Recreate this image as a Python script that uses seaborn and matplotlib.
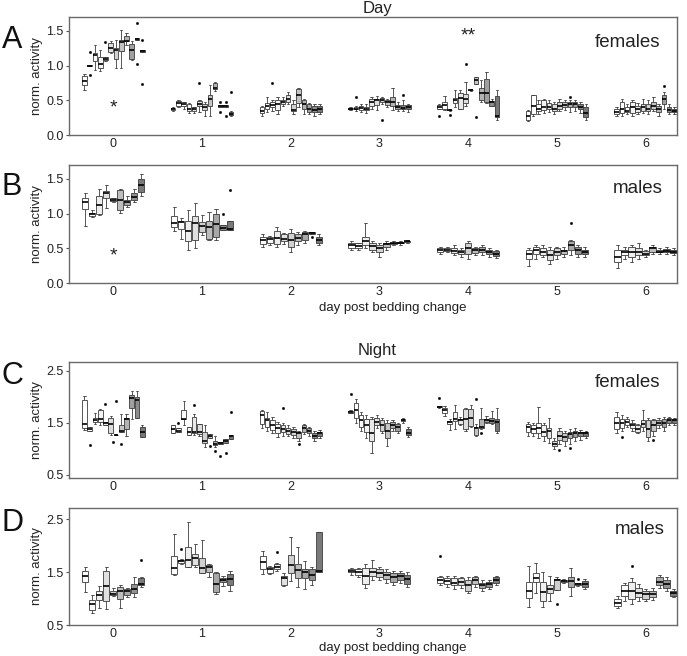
import numpy as np
import pandas as pd
import matplotlib
matplotlib.use("Agg")
import matplotlib.pyplot as plt
from matplotlib.ticker import FormatStrFormatter
import seaborn as sns

sns.set_theme(style="white")
plt.rcParams['font.family'] = ['Liberation Sans', 'DejaVu Sans']

# ---------------- data ----------------
days = ['0', '1', '2', '3', '4', '5', '6']
yticks_day = [0.0, 0.5, 1.0, 1.5]
yticks_night = [0.5, 1.5, 2.5]
colors_f = ['#ffffff', '#ffffff', '#fbfbfb', '#f3f3f3', '#e9e9e9', '#dedede',
            '#d2d2d2', '#c4c4c4', '#b3b3b3', '#a0a0a0', '#8c8c8c', '#777777']
colors_m = ['#ffffff', '#fafafa', '#eeeeee', '#e0e0e0', '#d0d0d0', '#bdbdbd',
            '#a8a8a8', '#929292', '#7a7a7a']

# each box: (low whisker, q1, median, q3, high whisker)
A_boxes = [
    [(0.65, 0.72, 0.78, 0.85, 0.88), (0.99, 0.99, 1.00, 1.01, 1.01), (0.93, 1.06, 1.15, 1.18, 1.29),
     (0.92, 0.96, 1.02, 1.12, 1.22), (1.07, 1.08, 1.10, 1.12, 1.13), (1.18, 1.19, 1.25, 1.32, 1.35),
     (0.97, 1.10, 1.22, 1.26, 1.37), (0.97, 1.21, 1.34, 1.37, 1.51), (1.30, 1.35, 1.36, 1.43, 1.47),
     (1.08, 1.10, 1.22, 1.31, 1.35), (1.37, 1.37, 1.38, 1.40, 1.40), (1.20, 1.20, 1.21, 1.23, 1.23)],
    [(0.35, 0.36, 0.375, 0.39, 0.40), (0.40, 0.42, 0.46, 0.49, 0.50), (0.37, 0.42, 0.44, 0.47, 0.48),
     (0.32, 0.34, 0.37, 0.45, 0.46), (0.31, 0.34, 0.37, 0.40, 0.41), (0.33, 0.42, 0.45, 0.49, 0.50),
     (0.27, 0.36, 0.41, 0.45, 0.47), (0.28, 0.42, 0.52, 0.58, 0.72), (0.64, 0.66, 0.68, 0.75, 0.76),
     (0.41, 0.41, 0.42, 0.43, 0.43), (0.41, 0.41, 0.42, 0.43, 0.43), (0.28, 0.29, 0.30, 0.33, 0.34)],
    [(0.28, 0.31, 0.34, 0.40, 0.42), (0.33, 0.38, 0.42, 0.46, 0.55), (0.35, 0.40, 0.43, 0.47, 0.50),
     (0.30, 0.36, 0.45, 0.50, 0.55), (0.42, 0.45, 0.48, 0.50, 0.55), (0.45, 0.48, 0.52, 0.58, 0.62),
     (0.30, 0.35, 0.36, 0.45, 0.50), (0.40, 0.46, 0.58, 0.66, 0.68), (0.30, 0.37, 0.45, 0.50, 0.52),
     (0.30, 0.33, 0.38, 0.44, 0.46), (0.28, 0.33, 0.36, 0.42, 0.44), (0.30, 0.33, 0.38, 0.42, 0.44)],
    [(0.36, 0.37, 0.38, 0.39, 0.40), (0.35, 0.37, 0.38, 0.40, 0.42), (0.33, 0.36, 0.39, 0.42, 0.45),
     (0.32, 0.36, 0.38, 0.41, 0.44), (0.38, 0.42, 0.48, 0.52, 0.55), (0.36, 0.43, 0.50, 0.52, 0.56),
     (0.45, 0.48, 0.50, 0.53, 0.55), (0.40, 0.43, 0.47, 0.50, 0.52), (0.36, 0.42, 0.48, 0.55, 0.67),
     (0.34, 0.37, 0.40, 0.43, 0.47), (0.34, 0.37, 0.39, 0.43, 0.50), (0.33, 0.37, 0.40, 0.43, 0.45)],
    [(0.37, 0.37, 0.40, 0.43, 0.44), (0.36, 0.38, 0.43, 0.48, 0.56), (0.35, 0.355, 0.36, 0.365, 0.37),
     (0.40, 0.46, 0.50, 0.54, 0.65), (0.37, 0.38, 0.53, 0.61, 0.65), (0.42, 0.46, 0.52, 0.59, 0.76),
     (0.64, 0.645, 0.65, 0.655, 0.66), (0.73, 0.74, 0.79, 0.84, 0.84), (0.48, 0.50, 0.61, 0.67, 0.79),
     (0.46, 0.48, 0.60, 0.80, 0.91), (0.42, 0.42, 0.48, 0.49, 0.52), (0.22, 0.26, 0.27, 0.56, 0.65)],
    [(0.20, 0.22, 0.28, 0.34, 0.36), (0.28, 0.30, 0.42, 0.58, 0.58), (0.30, 0.35, 0.38, 0.45, 0.50),
     (0.32, 0.36, 0.40, 0.50, 0.52), (0.33, 0.37, 0.40, 0.46, 0.50), (0.30, 0.35, 0.38, 0.44, 0.48),
     (0.35, 0.38, 0.42, 0.48, 0.52), (0.36, 0.40, 0.43, 0.47, 0.50), (0.33, 0.40, 0.45, 0.48, 0.50),
     (0.35, 0.40, 0.45, 0.48, 0.50), (0.32, 0.37, 0.40, 0.44, 0.47), (0.22, 0.26, 0.32, 0.40, 0.45)],
    [(0.28, 0.30, 0.33, 0.38, 0.40), (0.28, 0.32, 0.38, 0.48, 0.52), (0.30, 0.33, 0.35, 0.40, 0.45),
     (0.28, 0.32, 0.40, 0.48, 0.50), (0.30, 0.33, 0.37, 0.42, 0.46), (0.32, 0.35, 0.40, 0.45, 0.52),
     (0.30, 0.34, 0.38, 0.45, 0.50), (0.35, 0.38, 0.42, 0.48, 0.55), (0.28, 0.33, 0.37, 0.42, 0.45),
     (0.38, 0.45, 0.52, 0.58, 0.62), (0.30, 0.33, 0.36, 0.40, 0.45), (0.30, 0.33, 0.34, 0.38, 0.40)],
]
A_out = [(0, 1, 0.86), (0, 1, 1.20), (0, 4, 1.34), (0, 10, 1.62), (0, 10, 1.02), (0, 11, 1.37), (0, 11, 0.74),
         (1, 5, 0.75), (1, 9, 0.47), (1, 9, 0.33), (1, 10, 0.47), (1, 10, 0.27), (1, 11, 0.62),
         (2, 2, 0.75), (3, 1, 0.55), (3, 6, 0.22), (3, 10, 0.58),
         (4, 0, 0.27), (4, 2, 0.29), (4, 5, 1.03), (4, 7, 0.26), (5, 8, 0.55), (6, 9, 0.70)]

B_boxes = [
    [(0.825, 1.06, 1.17, 1.22, 1.29), (0.95, 0.97, 0.99, 1.01, 1.05), (0.98, 1.00, 1.13, 1.26, 1.35),
     (1.08, 1.23, 1.29, 1.33, 1.41), (1.17, 1.18, 1.20, 1.22, 1.23), (1.01, 1.05, 1.20, 1.34, 1.36),
     (1.10, 1.12, 1.16, 1.19, 1.26), (1.17, 1.20, 1.24, 1.29, 1.36), (1.26, 1.31, 1.41, 1.50, 1.57)],
    [(0.75, 0.81, 0.87, 0.96, 1.10), (0.64, 0.78, 0.88, 0.90, 0.93), (0.48, 0.60, 0.75, 0.90, 1.05),
     (0.51, 0.62, 0.87, 0.96, 1.15), (0.69, 0.74, 0.82, 0.88, 0.98), (0.62, 0.64, 0.81, 0.90, 1.03),
     (0.62, 0.66, 0.85, 0.99, 1.07), (0.76, 0.76, 0.79, 0.83, 0.83), (0.76, 0.76, 0.78, 0.90, 0.90)],
    [(0.52, 0.56, 0.62, 0.66, 0.70), (0.55, 0.58, 0.63, 0.66, 0.68), (0.52, 0.56, 0.65, 0.75, 0.80),
     (0.56, 0.60, 0.64, 0.70, 0.72), (0.45, 0.52, 0.62, 0.72, 0.78), (0.55, 0.60, 0.65, 0.70, 0.73),
     (0.58, 0.62, 0.70, 0.73, 0.75), (0.70, 0.71, 0.72, 0.73, 0.74), (0.55, 0.57, 0.62, 0.66, 0.70)],
    [(0.47, 0.50, 0.55, 0.58, 0.60), (0.48, 0.50, 0.54, 0.57, 0.58), (0.50, 0.55, 0.60, 0.66, 0.86),
     (0.45, 0.48, 0.54, 0.58, 0.60), (0.38, 0.45, 0.50, 0.55, 0.58), (0.48, 0.52, 0.56, 0.58, 0.60),
     (0.55, 0.56, 0.57, 0.58, 0.60), (0.55, 0.57, 0.58, 0.59, 0.60), (0.58, 0.59, 0.60, 0.61, 0.62)],
    [(0.42, 0.45, 0.48, 0.50, 0.52), (0.44, 0.46, 0.48, 0.50, 0.52), (0.40, 0.43, 0.46, 0.50, 0.55),
     (0.38, 0.42, 0.45, 0.48, 0.50), (0.35, 0.42, 0.50, 0.58, 0.60), (0.40, 0.43, 0.47, 0.50, 0.52),
     (0.40, 0.44, 0.48, 0.52, 0.55), (0.38, 0.42, 0.45, 0.48, 0.50), (0.36, 0.39, 0.42, 0.46, 0.48)],
    [(0.25, 0.35, 0.42, 0.48, 0.50), (0.35, 0.42, 0.48, 0.52, 0.55), (0.38, 0.40, 0.45, 0.50, 0.55),
     (0.28, 0.33, 0.40, 0.48, 0.52), (0.35, 0.40, 0.45, 0.50, 0.52), (0.38, 0.42, 0.46, 0.48, 0.52),
     (0.40, 0.47, 0.55, 0.60, 0.62), (0.38, 0.42, 0.47, 0.52, 0.55), (0.38, 0.42, 0.45, 0.48, 0.52)],
    [(0.22, 0.30, 0.38, 0.48, 0.55), (0.35, 0.40, 0.44, 0.48, 0.52), (0.30, 0.38, 0.45, 0.52, 0.55),
     (0.35, 0.40, 0.45, 0.50, 0.58), (0.38, 0.40, 0.42, 0.46, 0.48), (0.42, 0.45, 0.50, 0.52, 0.55),
     (0.42, 0.44, 0.45, 0.48, 0.50), (0.42, 0.44, 0.46, 0.49, 0.52), (0.40, 0.43, 0.45, 0.48, 0.50)],
]
B_out = [(1, 7, 0.99), (1, 8, 1.34), (2, 7, 0.66), (5, 6, 0.87)]

C_boxes = [
    [(1.36, 1.40, 1.48, 1.94, 2.02), (1.34, 1.34, 1.39, 1.42, 1.42), (1.48, 1.52, 1.55, 1.59, 1.69),
     (1.45, 1.51, 1.58, 1.75, 1.76), (1.45, 1.45, 1.50, 1.52, 1.52), (1.26, 1.31, 1.48, 1.59, 1.64),
     (1.26, 1.265, 1.27, 1.275, 1.28), (1.32, 1.32, 1.35, 1.46, 1.67), (1.25, 1.39, 1.58, 1.59, 1.67),
     (1.58, 1.78, 1.97, 2.03, 2.12), (1.59, 1.59, 1.94, 2.00, 2.12), (1.22, 1.22, 1.32, 1.42, 1.45)],
    [(1.31, 1.31, 1.38, 1.46, 1.46), (1.32, 1.32, 1.35, 1.40, 1.40), (1.45, 1.57, 1.58, 1.75, 1.92),
     (1.27, 1.27, 1.33, 1.42, 1.42), (1.27, 1.31, 1.32, 1.61, 1.67), (1.25, 1.29, 1.32, 1.48, 1.48),
     (1.04, 1.11, 1.16, 1.32, 1.45), (1.21, 1.21, 1.25, 1.29, 1.29), (1.04, 1.07, 1.10, 1.16, 1.24),
     (1.10, 1.10, 1.11, 1.14, 1.14), (1.11, 1.11, 1.15, 1.19, 1.19), (1.19, 1.19, 1.25, 1.27, 1.27)],
    [(1.40, 1.48, 1.65, 1.72, 1.75), (1.35, 1.42, 1.55, 1.60, 1.70), (1.30, 1.36, 1.45, 1.55, 1.62),
     (1.22, 1.30, 1.40, 1.48, 1.52), (1.25, 1.32, 1.38, 1.45, 1.50), (1.25, 1.28, 1.35, 1.40, 1.45),
     (1.20, 1.27, 1.33, 1.38, 1.42), (1.15, 1.20, 1.30, 1.32, 1.35), (1.28, 1.33, 1.40, 1.45, 1.48),
     (1.25, 1.30, 1.35, 1.40, 1.42), (1.15, 1.20, 1.25, 1.30, 1.35), (1.20, 1.25, 1.30, 1.33, 1.36)],
    [(1.68, 1.69, 1.70, 1.72, 1.75), (1.50, 1.60, 1.75, 1.88, 1.95), (1.35, 1.42, 1.55, 1.65, 1.70),
     (1.20, 1.32, 1.45, 1.58, 1.65), (0.92, 1.15, 1.30, 1.58, 1.62), (1.40, 1.45, 1.52, 1.60, 1.65),
     (1.30, 1.35, 1.45, 1.55, 1.60), (1.05, 1.20, 1.35, 1.50, 1.55), (1.35, 1.40, 1.45, 1.52, 1.55),
     (1.30, 1.35, 1.42, 1.48, 1.50), (1.50, 1.53, 1.56, 1.58, 1.60), (1.22, 1.26, 1.30, 1.38, 1.42)],
    [(1.78, 1.80, 1.81, 1.82, 1.83), (1.64, 1.69, 1.75, 1.78, 1.82), (1.37, 1.48, 1.52, 1.54, 1.58),
     (1.39, 1.54, 1.58, 1.70, 1.84), (1.45, 1.48, 1.55, 1.58, 1.62), (1.35, 1.39, 1.57, 1.77, 1.78),
     (1.42, 1.44, 1.60, 1.76, 1.84), (1.25, 1.27, 1.40, 1.42, 1.48), (1.38, 1.40, 1.42, 1.58, 1.79),
     (1.50, 1.52, 1.55, 1.58, 1.63), (1.47, 1.50, 1.53, 1.60, 1.73), (1.31, 1.35, 1.52, 1.58, 1.79)],
    [(1.25, 1.32, 1.42, 1.48, 1.52), (1.25, 1.30, 1.38, 1.45, 1.50), (1.20, 1.30, 1.40, 1.50, 1.80),
     (1.15, 1.25, 1.33, 1.45, 1.50), (1.12, 1.20, 1.35, 1.40, 1.60), (1.00, 1.05, 1.10, 1.15, 1.20),
     (1.10, 1.18, 1.25, 1.35, 1.40), (1.05, 1.15, 1.22, 1.30, 1.35), (1.10, 1.20, 1.28, 1.33, 1.38),
     (1.15, 1.22, 1.30, 1.35, 1.40), (1.18, 1.24, 1.30, 1.33, 1.36), (1.20, 1.24, 1.30, 1.33, 1.35)],
    [(1.30, 1.38, 1.50, 1.62, 1.70), (1.35, 1.40, 1.50, 1.58, 1.65), (1.42, 1.45, 1.52, 1.58, 1.62),
     (1.35, 1.40, 1.45, 1.50, 1.55), (1.30, 1.33, 1.38, 1.45, 1.48), (1.35, 1.42, 1.48, 1.55, 1.75),
     (1.15, 1.22, 1.38, 1.55, 1.60), (1.25, 1.35, 1.45, 1.55, 1.58), (1.40, 1.45, 1.50, 1.55, 1.60),
     (1.35, 1.42, 1.50, 1.58, 1.62), (1.45, 1.50, 1.55, 1.60, 1.62), (1.45, 1.50, 1.55, 1.58, 1.60)],
]
C_out = [(0, 1, 1.07), (0, 4, 1.87), (0, 6, 1.92), (0, 6, 1.14), (0, 7, 1.09),
         (1, 1, 1.50), (1, 4, 1.84), (1, 7, 1.06), (1, 8, 0.95), (1, 9, 0.86), (1, 10, 0.92), (1, 11, 1.70),
         (2, 4, 1.78), (2, 7, 1.10), (3, 0, 2.05), (4, 0, 1.97), (4, 7, 1.95), (4, 8, 1.31),
         (5, 6, 0.98), (5, 8, 1.02), (6, 1, 1.22), (6, 7, 1.18)]

D_boxes = [
    [(1.13, 1.31, 1.43, 1.52, 1.59), (0.72, 0.78, 0.89, 0.98, 1.07), (0.82, 0.98, 1.07, 1.14, 1.24),
     (0.80, 0.96, 1.23, 1.52, 1.60), (1.05, 1.07, 1.09, 1.14, 1.19), (0.82, 0.99, 1.14, 1.22, 1.26),
     (1.03, 1.06, 1.14, 1.18, 1.19), (1.02, 1.10, 1.18, 1.28, 1.40), (1.22, 1.25, 1.28, 1.39, 1.40)],
    [(1.44, 1.46, 1.57, 1.81, 2.22), (1.66, 1.68, 1.70, 1.72, 1.75), (1.60, 1.60, 1.73, 1.97, 2.44),
     (1.59, 1.63, 1.76, 1.85, 2.03), (1.48, 1.48, 1.57, 1.76, 2.11), (1.41, 1.51, 1.60, 1.63, 1.66),
     (1.08, 1.13, 1.28, 1.48, 1.50), (1.23, 1.32, 1.35, 1.38, 1.43), (1.15, 1.25, 1.37, 1.46, 1.52)],
    [(1.46, 1.56, 1.69, 1.81, 1.90), (1.46, 1.49, 1.55, 1.60, 1.62), (1.52, 1.56, 1.60, 1.65, 1.67),
     (1.24, 1.26, 1.39, 1.43, 1.48), (1.34, 1.48, 1.63, 1.82, 2.16), (1.22, 1.39, 1.53, 1.65, 1.98),
     (1.18, 1.39, 1.50, 1.56, 1.70), (1.25, 1.35, 1.45, 1.55, 1.60), (1.50, 1.50, 1.52, 2.25, 2.25)],
    [(1.45, 1.50, 1.52, 1.55, 1.58), (1.40, 1.45, 1.50, 1.55, 1.58), (1.20, 1.28, 1.42, 1.58, 1.65),
     (1.35, 1.42, 1.50, 1.58, 1.72), (1.35, 1.40, 1.48, 1.55, 1.60), (1.30, 1.36, 1.45, 1.50, 1.55),
     (1.25, 1.32, 1.40, 1.48, 1.52), (1.30, 1.35, 1.42, 1.48, 1.52), (1.22, 1.28, 1.36, 1.45, 1.50)],
    [(1.25, 1.30, 1.35, 1.40, 1.42), (1.22, 1.28, 1.33, 1.38, 1.42), (1.18, 1.25, 1.30, 1.38, 1.42),
     (1.20, 1.25, 1.32, 1.38, 1.40), (1.10, 1.15, 1.25, 1.35, 1.40), (1.22, 1.28, 1.35, 1.40, 1.42),
     (1.15, 1.20, 1.25, 1.30, 1.35), (1.18, 1.22, 1.28, 1.32, 1.35), (1.25, 1.30, 1.35, 1.40, 1.42)],
    [(0.84, 1.01, 1.15, 1.31, 1.62), (1.11, 1.31, 1.38, 1.48, 1.68), (0.84, 0.96, 1.12, 1.32, 1.51),
     (0.96, 1.11, 1.18, 1.26, 1.43), (1.17, 1.17, 1.35, 1.37, 1.40), (1.30, 1.31, 1.33, 1.35, 1.36),
     (1.05, 1.21, 1.34, 1.40, 1.57), (1.24, 1.25, 1.27, 1.29, 1.30), (1.18, 1.21, 1.28, 1.34, 1.37)],
    [(0.82, 0.86, 0.92, 1.00, 1.05), (0.95, 1.05, 1.15, 1.25, 1.30), (0.90, 1.00, 1.15, 1.32, 1.38),
     (0.95, 1.02, 1.10, 1.20, 1.28), (0.95, 1.00, 1.08, 1.15, 1.18), (0.98, 1.02, 1.08, 1.15, 1.20),
     (1.20, 1.25, 1.32, 1.40, 1.45), (1.15, 1.20, 1.28, 1.35, 1.40), (1.02, 1.05, 1.10, 1.15, 1.18)],
]
D_out = [(0, 8, 1.72), (1, 1, 1.94), (2, 2, 1.87), (4, 0, 1.80), (5, 4, 0.90), (5, 7, 1.37), (6, 2, 1.62)]


# ---------------- helpers ----------------
def box_frame(boxes):
    rows = []
    for d, day_boxes in enumerate(boxes):
        for b, stats in enumerate(day_boxes):
            for v in stats:
                rows.append((days[d], f"c{b}", v))
    return pd.DataFrame(rows, columns=["day", "cage", "value"])


def out_frame(outs):
    rows, seen = [], {}
    for d, b, v in outs:
        k = (d, b)
        layer = seen.get(k, 0)
        seen[k] = layer + 1
        rows.append((days[d], f"c{b}", v, layer))
    return pd.DataFrame(rows, columns=["day", "cage", "value", "layer"])


W = 0.71
TXT = "#222222"


def draw_panel(ax, boxes, outs, colors, ylim, yticks):
    n = len(colors)
    cages = [f"c{i}" for i in range(n)]
    df = box_frame(boxes)
    sns.boxplot(data=df, x="day", y="value", hue="cage", order=days, hue_order=cages,
                palette=colors, width=W, gap=0.12, whis=np.inf, showfliers=False,
                linecolor="#3c3c3c", linewidth=0.6,
                medianprops=dict(color="black", linewidth=1.2),
                legend=False, ax=ax)
    of = out_frame(outs)
    for layer in sorted(of["layer"].unique()):
        sub = of[of["layer"] == layer]
        sns.boxplot(data=sub, x="day", y="value", hue="cage", order=days, hue_order=cages,
                    palette=colors, width=W, gap=0.12, showbox=False, showcaps=False,
                    showfliers=False, whiskerprops=dict(visible=False),
                    medianprops=dict(visible=False), showmeans=True,
                    meanprops=dict(marker="o", markerfacecolor="black",
                                   markeredgecolor="black", markersize=1.6,
                                   markeredgewidth=0.4),
                    legend=False, ax=ax)
    ax.set_xlim(-0.5, 6.355)
    ax.set_ylim(*ylim)
    ax.set_yticks(yticks)
    ax.yaxis.set_major_formatter(FormatStrFormatter("%.1f"))
    ax.tick_params(axis="y", length=2.5, width=0.8, color="#555555", pad=1.5, labelsize=9,
                   labelcolor=TXT, left=True)
    ax.tick_params(axis="x", length=0, pad=2.5, labelsize=9, labelcolor=TXT)
    for s in ax.spines.values():
        s.set_color("#6a6a6a")
        s.set_linewidth(1.0)
    ax.set_ylabel("norm. activity", fontsize=9.5, color=TXT)
    ax.yaxis.set_label_coords(-0.043, 0.5)
    ax.set_xlabel("")


# ---------------- figure ----------------
FW, FH = 687, 656
fig = plt.figure(figsize=(FW / 100, FH / 100), dpi=100)


def axes_px(left, top, right, bottom):
    return fig.add_axes([left / FW, 1 - bottom / FH, (right - left) / FW, (bottom - top) / FH])


axA = axes_px(69, 17, 677, 135)
axB = axes_px(69, 165, 677, 283)
axC = axes_px(69, 362, 677, 478)
axD = axes_px(69, 508, 677, 625)

draw_panel(axA, A_boxes, A_out, colors_f, (0.0, 1.70), yticks_day)
draw_panel(axB, B_boxes, B_out, colors_m, (0.0, 1.70), yticks_day)
draw_panel(axC, C_boxes, C_out, colors_f, (0.44, 2.67), yticks_night)
draw_panel(axD, D_boxes, D_out, colors_m, (0.5, 2.71), yticks_night)

for ax, ypos in ((axB, -0.158), (axD, -0.142)):
    ax.set_xlabel("day post bedding change", fontsize=9.5, color=TXT)
    ax.xaxis.set_label_coords(0.533, ypos)

# titles and panel letters
fig.text(377 / FW, 1 - 8 / FH, "Day", ha="center", va="center", fontsize=12, color=TXT)
fig.text(377 / FW, 1 - 350 / FH, "Night", ha="center", va="center", fontsize=12, color=TXT)
for letter, ypx in (("A", 40), ("B", 187), ("C", 376), ("D", 523)):
    fig.text(12 / FW, 1 - ypx / FH, letter, ha="center", va="center", fontsize=22, color="#111111")

axA.text(0.919, 0.788, "females", transform=axA.transAxes, ha="center", va="center", fontsize=13.5, color=TXT)
axB.text(0.936, 0.805, "males", transform=axB.transAxes, ha="center", va="center", fontsize=13.5, color=TXT)
axC.text(0.919, 0.819, "females", transform=axC.transAxes, ha="center", va="center", fontsize=13.5, color=TXT)
axD.text(0.939, 0.812, "males", transform=axD.transAxes, ha="center", va="center", fontsize=13.5, color=TXT)

# significance marks
axA.text(0, 0.33, "*", ha="center", va="baseline", fontsize=14, color=TXT)
axB.text(0, 0.32, "*", ha="center", va="baseline", fontsize=14, color=TXT)
axA.text(4, 1.36, "**", ha="center", va="baseline", fontsize=14, color=TXT)

fig.savefig("out.png", dpi=100)
